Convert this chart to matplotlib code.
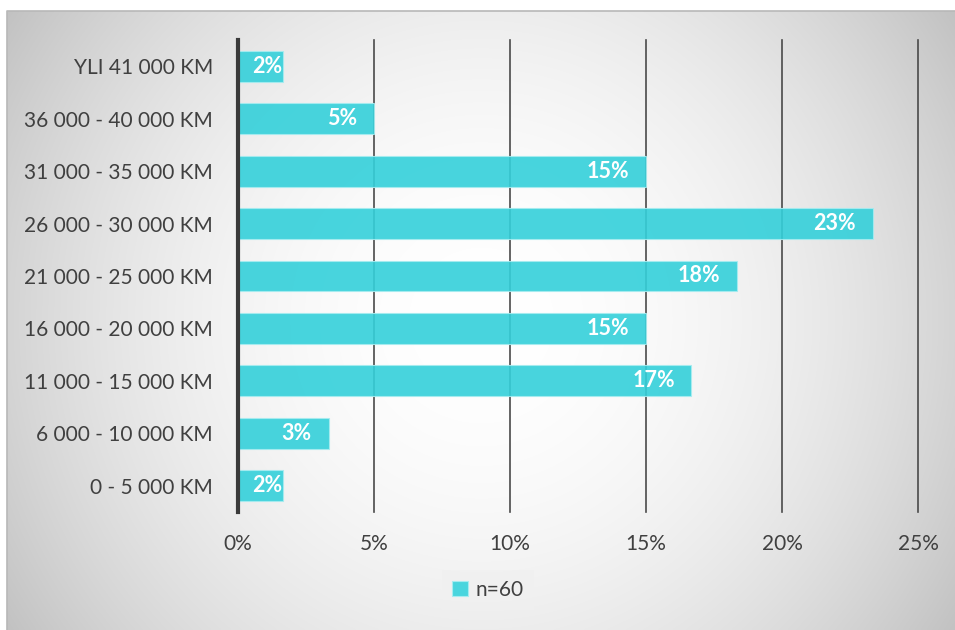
import numpy as np
import matplotlib
matplotlib.use("Agg")
import matplotlib.pyplot as plt
from matplotlib.patches import Patch

plt.rcParams['font.family'] = ['Lato', 'DejaVu Sans']

# Mileage bands, top to bottom
categories = [
    "YLI 41 000 KM",
    "36 000 - 40 000 KM",
    "31 000 - 35 000 KM",
    "26 000 - 30 000 KM",
    "21 000 - 25 000 KM",
    "16 000 - 20 000 KM",
    "11 000 - 15 000 KM",
    "6 000 - 10 000 KM",
    "0 - 5 000 KM",
]
# Share of respondents (%), n=60
shares = [1.67, 5.0, 15.0, 23.33, 18.33, 15.0, 16.67, 3.33, 1.67]
x_ticks = [0, 5, 10, 15, 20, 25]
x_tick_labels = ["0%", "5%", "10%", "15%", "20%", "25%"]
series_name = "n=60"

W, H = 955, 630
fig = plt.figure(figsize=(W / 100, H / 100), dpi=100)
fig.patch.set_facecolor("white")

# Grey panel with a soft radial highlight in the middle
px0, py0 = 7, 11
bg = fig.add_axes([px0 / W, 0, (W - px0) / W, (H - py0) / H])
gx = np.linspace(-1, 1, 480)
gy = np.linspace(-1, 1, 320)
GX, GY = np.meshgrid(gx, gy)
shade = (255 - 43 * GX ** 2 - 18 * GY ** 2) / 255.0
bg.imshow(np.dstack([shade] * 3), aspect="auto", extent=[0, 1, 0, 1],
          interpolation="bilinear")
bg.set_xlim(0, 1)
bg.set_ylim(0, 1)
bg.axis("off")
# panel outline on the top and left sides only
bg.plot([0, 0, 1], [0, 1, 1], transform=bg.transAxes, color="#b8b8b8",
        linewidth=1.2, clip_on=False)

# Plot area
left, right, top, bottom = 238, 918, 40, 512
ax = fig.add_axes([left / W, 1 - bottom / H, (right - left) / W, (bottom - top) / H])
ax.set_facecolor("none")

ypos = np.arange(len(categories))
bar_color = "#34D0DA"
ax.barh(ypos, shares, height=0.59, color=bar_color, alpha=0.9,
        edgecolor="#a6ecf0", linewidth=0.8, zorder=3)

ax.set_xlim(0, 25)
ax.set_ylim(len(categories) - 0.5, -0.5)

for t in x_ticks[1:]:
    ax.axvline(t, color="#4a4a4a", linewidth=1.2, zorder=2, clip_on=False)
ax.axvline(0, color="#3a3a3a", linewidth=3, zorder=4, clip_on=False)

ax.set_yticks(ypos)
ax.set_yticklabels(categories, fontsize=15, color="#404040")
ax.set_xticks(x_ticks)
ax.set_xticklabels(x_tick_labels, fontsize=15, color="#404040")
ax.tick_params(axis="y", length=0, pad=18)
ax.tick_params(axis="x", length=0, pad=16)
for s in ax.spines.values():
    s.set_visible(False)

# Value labels inside the bar ends
for y, v in zip(ypos, shares):
    off = -12 if v >= 2.5 else -1
    ax.annotate(f"{v:.0f}%", xy=(v, y), xytext=(off, 0), textcoords="offset points",
                ha="right", va="center", fontsize=15.5, fontweight="bold",
                color="white", zorder=5)

handle = Patch(facecolor="#49D5DE", edgecolor="#a6ecf0", linewidth=0.8, label=series_name)
leg = fig.legend(handles=[handle], loc="center", bbox_to_anchor=(488 / W, 1 - 590 / H),
                 frameon=True, fontsize=15, handlelength=0.75, handleheight=0.75,
                 handletextpad=0.35, borderpad=0.5, fancybox=False)
leg.get_frame().set_facecolor("#f0f0f0")
leg.get_frame().set_edgecolor("none")
leg.get_frame().set_alpha(0.6)
for t in leg.get_texts():
    t.set_color("#404040")

fig.savefig("out.png", dpi=100, facecolor="white")
